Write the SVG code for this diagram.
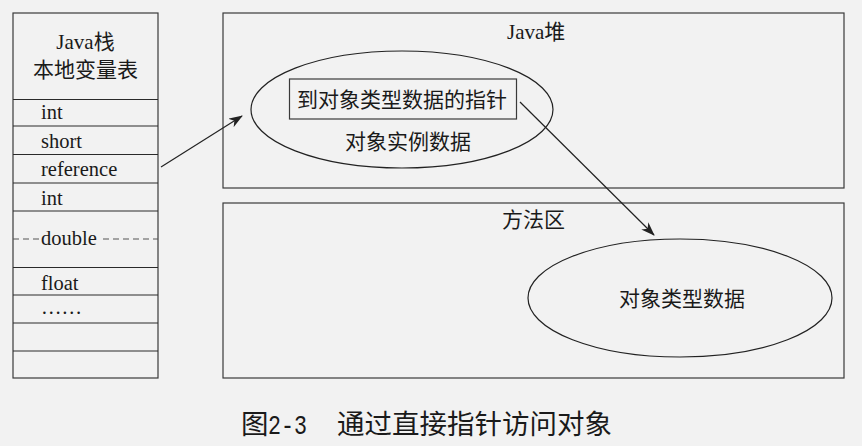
<svg xmlns="http://www.w3.org/2000/svg" width="862" height="446" viewBox="0 0 862 446">
  <style>
    .box { fill: none; stroke: #3a3a3a; stroke-width: 1.2; }
    .row { stroke: #2a2a2a; stroke-width: 1; }
    .dash { stroke: #555; stroke-width: 1; stroke-dasharray: 6 4; }
    .ell { fill: none; stroke: #222; stroke-width: 1.2; }
    .lat { font-family: "Liberation Serif", "Noto Sans CJK SC", serif; font-size: 20.5px; fill: #1a1a1a; }
    .cjk { font-family: "Liberation Serif", "Noto Sans CJK SC", serif; font-size: 21px; fill: #1a1a1a; }
    .cap { font-family: "Liberation Mono", "Noto Sans CJK SC", monospace; font-size: 27.5px; fill: #1a1a1a; }
    .conn { stroke: #222; stroke-width: 1.2; fill: none; marker-end: url(#ah); }
  </style>
  <defs>
    <marker id="ah" viewBox="0 0 14 10" refX="13" refY="5" markerWidth="14" markerHeight="10" markerUnits="userSpaceOnUse" orient="auto">
      <path d="M0,0 L14,5 L0,10 L4,5 Z" fill="#222"/>
    </marker>
  </defs>
  <rect width="862" height="446" fill="#f2f2f2"/>

  <!-- Java stack / local variable table -->
  <g id="stack">
    <rect class="box" x="13" y="13" width="145" height="365"/>
    <text class="cjk" x="85.5" y="49" text-anchor="middle" font-size="20">Java栈</text>
    <text class="cjk" x="85.5" y="77" text-anchor="middle">本地变量表</text>
    <line class="row" x1="13" y1="99.5" x2="158" y2="99.5"/>
    <line class="row" x1="13" y1="126" x2="158" y2="126"/>
    <line class="row" x1="13" y1="154.5" x2="158" y2="154.5"/>
    <line class="row" x1="13" y1="183" x2="158" y2="183"/>
    <line class="row" x1="13" y1="211" x2="158" y2="211"/>
    <line class="dash" x1="13" y1="239" x2="158" y2="239"/>
    <line class="row" x1="13" y1="267.5" x2="158" y2="267.5"/>
    <line class="row" x1="13" y1="295" x2="158" y2="295"/>
    <line class="row" x1="13" y1="323" x2="158" y2="323"/>
    <line class="row" x1="13" y1="351" x2="158" y2="351"/>
    <text class="lat" x="41" y="119">int</text>
    <text class="lat" x="41" y="148">short</text>
    <text class="lat" x="41" y="176">reference</text>
    <text class="lat" x="41" y="205">int</text>
    <rect x="40" y="228" width="62" height="20" fill="#f2f2f2"/>
    <text class="lat" x="41" y="245">double</text>
    <text class="lat" x="41" y="290">float</text>
    <text class="lat" x="41" y="314">……</text>
  </g>

  <!-- Java heap -->
  <g id="heap">
    <rect class="box" x="223" y="13" width="621" height="175"/>
    <text class="cjk" x="507" y="39" font-size="20">Java堆</text>
    <ellipse class="ell" cx="402" cy="109.5" rx="151" ry="58.5"/>
  </g>
  <g id="pointer">
    <rect class="box" x="289.5" y="79" width="227" height="40"/>
    <text class="cjk" x="402" y="107" text-anchor="middle">到对象类型数据的指针</text>
  </g>
  <text class="cjk" x="408" y="149" text-anchor="middle">对象实例数据</text>

  <!-- Method area -->
  <g id="method-area">
    <rect class="box" x="223" y="203" width="621" height="175"/>
    <text class="cjk" x="502" y="227">方法区</text>
  </g>
  <g id="type-data">
    <ellipse class="ell" cx="680" cy="298" rx="152" ry="59"/>
    <text class="cjk" x="682" y="306" text-anchor="middle">对象类型数据</text>
  </g>

  <!-- Connectors -->
  <g id="connectors">
    <line class="conn" x1="161" y1="167" x2="242" y2="116"/>
    <line class="conn" x1="520" y1="102" x2="654" y2="235"/>
  </g>

  <!-- Caption -->
  <text class="cap" y="434"><tspan x="241">图</tspan><tspan x="268" textLength="39" lengthAdjust="spacingAndGlyphs">2-3</tspan><tspan x="337">通过直接指针访问对象</tspan></text>
</svg>
